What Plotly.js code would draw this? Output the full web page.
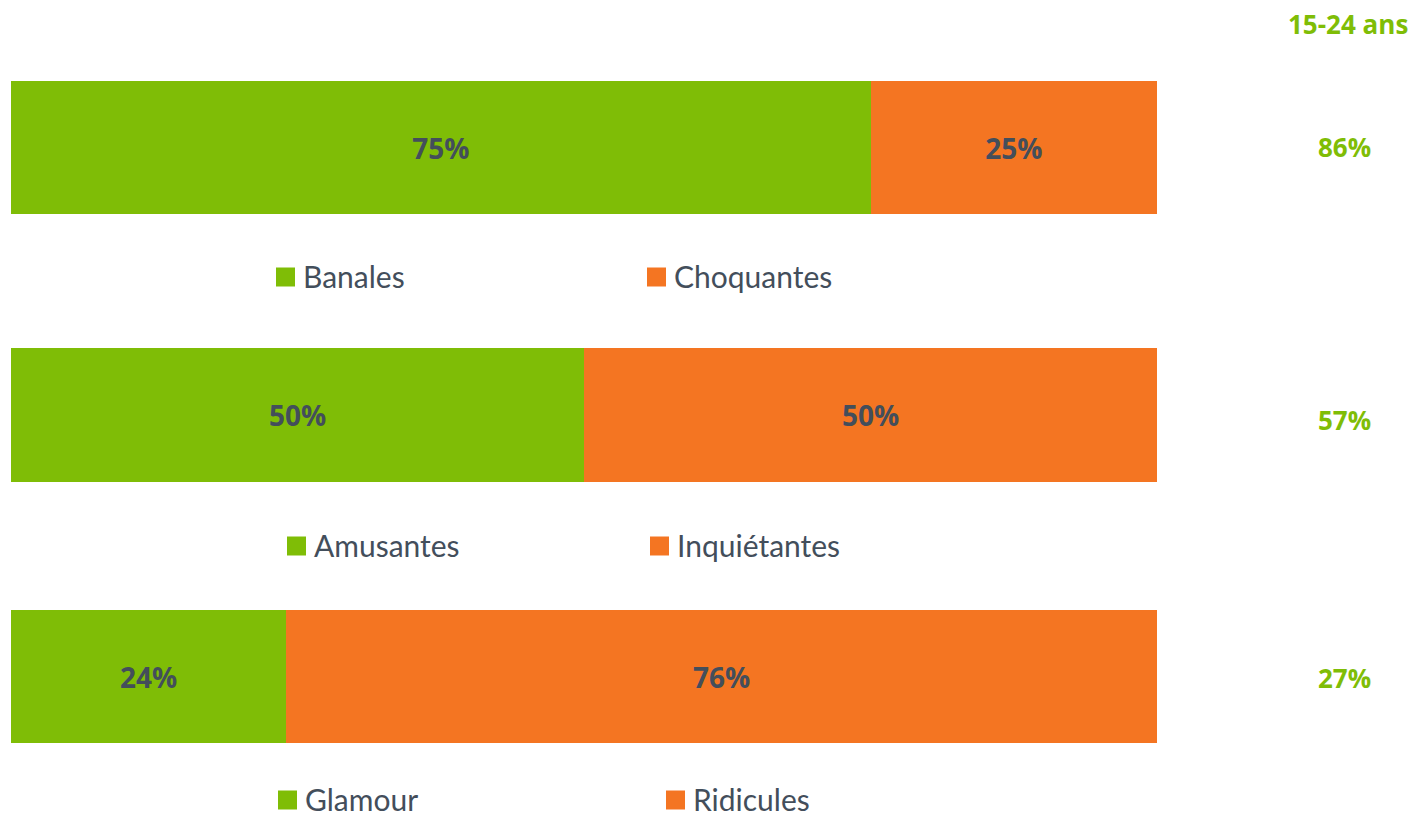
<!DOCTYPE html>
<html>
<head>
<meta charset="utf-8">
<script src="https://cdn.plot.ly/plotly-3.0.1.min.js"></script>
<style>html,body{margin:0;padding:0;background:#fff;}#chart{width:1416px;height:818px;}</style>
</head>
<body>
<div id="chart"></div>
<script>
const positiveLabels = ["Banales", "Amusantes", "Glamour"];
const negativeLabels = ["Choquantes", "Inquiétantes", "Ridicules"];
const positiveValues = [75, 50, 24];
const negativeValues = [25, 50, 76];
const youthValues = [86, 57, 27];
const youthHeader = "15-24 ans";

const W = 1416, H = 818;
const GREEN = "#7fbd06", ORANGE = "#f47522", TEXT = "#434e5b";
const FONT = "Lato, 'Open Sans', sans-serif";
const BOLDFONT = "'Open Sans', Lato, sans-serif";

// pixel layout (top, bottom) for each bar, legend row center
const barPx = [[81, 214], [348, 482], [610, 743]];
const legendY = [276, 545, 799];
const legendX = [[276, 647], [287, 650], [278, 666]];
const valueY = [147, 420, 678];

const px = v => v / W;
const py = v => 1 - v / H;

const traces = [];
const layout = {
  width: W, height: H,
  margin: {l: 0, r: 0, t: 0, b: 0},
  paper_bgcolor: "#fff", plot_bgcolor: "#fff",
  barmode: "stack",
  showlegend: false,
  font: {family: FONT, color: TEXT},
  shapes: [], annotations: []
};

for (let i = 0; i < 3; i++) {
  const sfx = i === 0 ? "" : String(i + 1);
  const xa = "x" + sfx, ya = "y" + sfx;
  traces.push({
    type: "bar", orientation: "h", xaxis: xa, yaxis: ya,
    y: [0], x: [positiveValues[i]], name: positiveLabels[i],
    marker: {color: GREEN, line: {width: 0}}, width: 1,
    text: [positiveValues[i] + "%"], textposition: "inside", insidetextanchor: "middle",
    textfont: {family: BOLDFONT, size: 28, color: TEXT, weight: "bold"},
    hoverinfo: "skip", cliponaxis: false
  });
  traces.push({
    type: "bar", orientation: "h", xaxis: xa, yaxis: ya,
    y: [0], x: [negativeValues[i]], name: negativeLabels[i],
    marker: {color: ORANGE, line: {width: 0}}, width: 1,
    text: [negativeValues[i] + "%"], textposition: "inside", insidetextanchor: "middle",
    textfont: {family: BOLDFONT, size: 28, color: TEXT, weight: "bold"},
    hoverinfo: "skip", cliponaxis: false
  });
  layout["xaxis" + sfx] = {
    domain: [px(11), px(1157)], range: [0, 100], anchor: ya,
    showgrid: false, zeroline: false, showticklabels: false, showline: false, ticks: "", fixedrange: true
  };
  layout["yaxis" + sfx] = {
    domain: [py(barPx[i][1]), py(barPx[i][0])], range: [-0.5, 0.5], anchor: xa,
    showgrid: false, zeroline: false, showticklabels: false, showline: false, ticks: "", fixedrange: true
  };

  // legend entries
  const sq = 19;
  [[legendX[i][0], GREEN, positiveLabels[i]], [legendX[i][1], ORANGE, negativeLabels[i]]].forEach(([x0, c, lab]) => {
    layout.shapes.push({
      type: "rect", xref: "paper", yref: "paper",
      x0: px(x0), x1: px(x0 + sq), y0: py(legendY[i] + sq / 2 + 1), y1: py(legendY[i] - sq / 2 + 1),
      fillcolor: c, line: {width: 0}
    });
    layout.annotations.push({
      xref: "paper", yref: "paper", x: px(x0 + sq + 6), y: py(legendY[i]),
      xanchor: "left", yanchor: "middle", showarrow: false,
      text: lab, font: {family: FONT, size: 30, color: TEXT}
    });
  });

  // right-hand youth value
  layout.annotations.push({
    xref: "paper", yref: "paper", x: px(1344), y: py(valueY[i]),
    xanchor: "center", yanchor: "middle", showarrow: false,
    text: "<b>" + youthValues[i] + "%</b>", font: {family: BOLDFONT, size: 26, color: GREEN}
  });
}

layout.annotations.push({
  xref: "paper", yref: "paper", x: px(1348), y: py(24),
  xanchor: "center", yanchor: "middle", showarrow: false,
  text: "<b>" + youthHeader + "</b>", font: {family: BOLDFONT, size: 26, color: GREEN}
});

Plotly.newPlot("chart", traces, layout, {displayModeBar: false, staticPlot: true});
</script>
</body>
</html>
